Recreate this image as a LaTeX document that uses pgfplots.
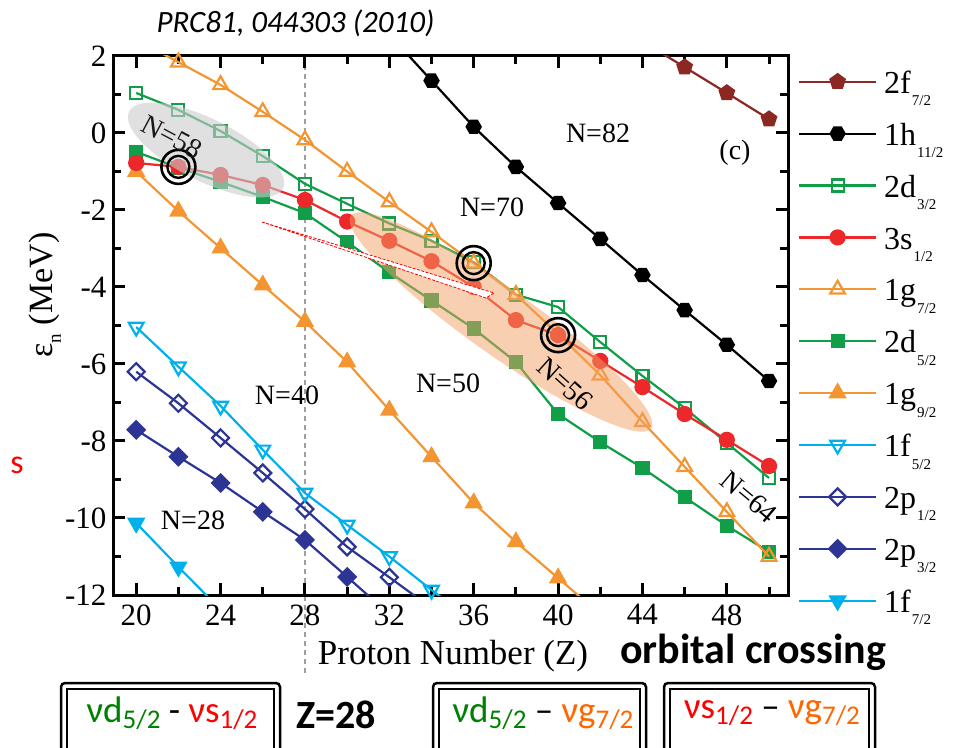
\documentclass[border=0pt]{standalone}
\usepackage{fontspec}
\setmainfont{Liberation Serif}
\newfontfamily\carlito{Carlito}
\usepackage{pgfplots}
\pgfplotsset{compat=1.18}
\usetikzlibrary{plotmarks}
\definecolor{cbrown}{RGB}{139,40,35}
\definecolor{cgreen}{RGB}{16,158,72}
\definecolor{cred}{RGB}{236,40,42}
\definecolor{corange}{RGB}{243,150,50}
\definecolor{cblue}{RGB}{0,176,236}
\definecolor{cnavy}{RGB}{44,52,148}
\definecolor{tgreen}{RGB}{0,128,0}
\definecolor{tred}{RGB}{255,0,0}
\definecolor{torange}{RGB}{255,102,0}
\definecolor{ellor}{RGB}{242,160,100}
\pgfdeclareplotmark{hexagon*}{%
  \pgfpathmoveto{\pgfqpointpolar{0}{\pgfplotmarksize}}%
  \pgfpathlineto{\pgfqpointpolar{60}{\pgfplotmarksize}}%
  \pgfpathlineto{\pgfqpointpolar{120}{\pgfplotmarksize}}%
  \pgfpathlineto{\pgfqpointpolar{180}{\pgfplotmarksize}}%
  \pgfpathlineto{\pgfqpointpolar{240}{\pgfplotmarksize}}%
  \pgfpathlineto{\pgfqpointpolar{300}{\pgfplotmarksize}}%
  \pgfpathclose\pgfusepathqfillstroke}
\pgfplotsset{
  s2f/.style={cbrown, line width=2.2pt, mark=pentagon*, mark size=7.5pt, mark options={fill=cbrown, solid}},
  s1h/.style={black, line width=2.2pt, mark=hexagon*, mark size=7pt, mark options={fill=black, solid}},
  s2dc/.style={cgreen, line width=2.2pt, mark=square, mark size=6pt, mark options={fill=white, solid}},
  s3s/.style={cred, line width=2.2pt, mark=*, mark size=7pt, mark options={fill=cred, solid}},
  s1gs/.style={corange, line width=2.2pt, mark=triangle, mark size=8.5pt, mark options={fill=white, solid}},
  s2df/.style={cgreen, line width=2.2pt, mark=square*, mark size=6pt, mark options={fill=cgreen, solid}},
  s1gn/.style={corange, line width=2.2pt, mark=triangle*, mark size=8.5pt, mark options={fill=corange, solid}},
  s1ff/.style={cblue, line width=2.2pt, mark=triangle, mark size=8.5pt, mark options={fill=white, rotate=180, solid}},
  s2po/.style={cnavy, line width=2.2pt, mark=square, mark size=6pt, mark options={fill=white, rotate=45, solid}},
  s2pt/.style={cnavy, line width=2.2pt, mark=square*, mark size=6pt, mark options={fill=cnavy, rotate=45, solid}},
  s1fs/.style={cblue, line width=2.2pt, mark=triangle*, mark size=8.5pt, mark options={fill=cblue, rotate=180, solid}},
}
\newcommand{\lsub}[1]{\kern1pt\raisebox{-12.4pt}{\fontsize{15}{15}\selectfont #1}}
\newcommand{\bsub}[1]{\raisebox{-6pt}{\fontsize{27}{27}\selectfont #1}}
\begin{document}
\begin{tikzpicture}
\useasboundingbox (0,0) rectangle (963pt,747pt);
\clip (0,0) rectangle (963pt,747pt);
% dashed line at Z=28
\draw[gray!75, line width=1.5pt, dash pattern=on 5pt off 4pt] (305pt,691pt) -- (305pt,72pt);
\begin{axis}[
  at={(113pt,152pt)}, anchor=south west,
  width=675pt, height=539pt, scale only axis,
  xmin=18.9, xmax=50.9, ymin=-12, ymax=2,
  xtick={20,24,...,48}, minor xtick={22,26,...,50},
  ytick={-12,-10,...,2}, minor ytick={-11,-9,...,1},
  tick align=inside,
  major tick length=12pt, minor tick length=8pt,
  every tick/.append style={black, line width=3pt},
  axis line style={line width=3pt},
  tick label style={font=\fontsize{31}{31}\selectfont},
  /pgf/number format/assume math mode=true,
  xticklabel style={yshift=-6pt},
  yticklabel style={xshift=-3pt},
  clip mode=individual,
  legend style={at={(1,1)}, anchor=north west, xshift=10pt, yshift=-15.3pt,
    draw=none, fill=none, inner sep=0pt, outer sep=0pt, row sep=0pt, column sep=7pt,
    cells={anchor=base west},
    nodes={inner sep=0pt, text height=22pt, text depth=29.9pt},
    font=\fontsize{32}{32}\selectfont},
  legend image code/.code={\draw[mark repeat=2,mark phase=2,#1,yshift=11.6pt] plot coordinates {(0pt,0pt) (38.5pt,0pt) (77pt,0pt)};},
]
\addlegendimage{s2f}
\addlegendimage{s1h}
\addlegendimage{s2dc}
\addlegendimage{s3s}
\addlegendimage{s1gs}
\addlegendimage{s2df}
\addlegendimage{s1gn}
\addlegendimage{s1ff}
\addlegendimage{s2po}
\addlegendimage{s2pt}
\addlegendimage{s1fs}
\legend{2f\lsub{7/2}, 1h\lsub{11/2}, 2d\lsub{3/2}, 3s\lsub{1/2}, 1g\lsub{7/2}, 2d\lsub{5/2}, 1g\lsub{9/2}, 1f\lsub{5/2}, 2p\lsub{1/2}, 2p\lsub{3/2}, 1f\lsub{7/2}}
% 1f7/2
\addplot[s1fs, forget plot] coordinates {(20,-10.13)(22,-11.27)(24,-12.38)};
% 2p3/2
\addplot[s2pt, forget plot] coordinates {(20,-7.71)(22,-8.41)(24,-9.09)(26,-9.84)(28,-10.57)(30,-11.53)(32,-12.5)};
% 2p1/2
\addplot[s2po, forget plot] coordinates {(20,-6.2)(22,-7.02)(24,-7.92)(26,-8.83)(28,-9.77)(30,-10.75)(32,-11.54)(34,-12.34)};
% 1f5/2
\addplot[s1ff, forget plot] coordinates {(20,-5.04)(22,-6.07)(24,-7.09)(26,-8.23)(28,-9.35)(30,-10.18)(32,-11.0)(34,-11.87)(36,-12.7)};
% 2d5/2
\addplot[s2df, forget plot] coordinates {(20,-0.49)(22,-0.9)(24,-1.27)(26,-1.66)(28,-2.08)(30,-2.83)(32,-3.62)(34,-4.35)(36,-5.08)(38,-5.95)(40,-7.3)(42,-8.03)(44,-8.7)(46,-9.46)(48,-10.2)(50,-10.88)};
% 2d3/2
\addplot[s2dc, forget plot] coordinates {(20,1.04)(22,0.6)(24,0.05)(26,-0.6)(28,-1.32)(30,-1.84)(32,-2.35)(34,-2.8)(36,-3.36)(38,-4.2)(40,-4.52)(42,-5.43)(44,-6.31)(46,-7.14)(48,-8.05)(50,-8.96)};
% 1g9/2
\addplot[s1gn, forget plot] coordinates {(20,-1.0)(22,-2.03)(24,-2.99)(26,-3.95)(28,-4.9)(30,-5.95)(32,-7.2)(34,-8.41)(36,-9.61)(38,-10.62)(40,-11.56)(42,-12.5)};
% 1g7/2
\addplot[s1gs, forget plot] coordinates {(20,2.43)(22,1.84)(24,1.25)(26,0.55)(28,-0.18)(30,-1.0)(32,-1.79)(34,-2.57)(36,-3.38)(38,-4.2)(40,-5.22)(42,-6.29)(44,-7.5)(46,-8.67)(48,-9.84)(50,-11.0)};
% 3s1/2
\addplot[s3s, forget plot] coordinates {(20,-0.78)(22,-0.88)(24,-1.09)(26,-1.35)(28,-1.74)(30,-2.3)(32,-2.8)(34,-3.33)(36,-4.0)(38,-4.86)(40,-5.25)(42,-5.92)(44,-6.6)(46,-7.3)(48,-7.97)(50,-8.65)};
% 1h11/2
\addplot[s1h, forget plot] coordinates {(32,2.56)(34,1.36)(36,0.16)(38,-0.88)(40,-1.82)(42,-2.75)(44,-3.69)(46,-4.6)(48,-5.5)(50,-6.44)};
% 2f7/2
\addplot[s2f, forget plot] coordinates {(44,2.38)(46,1.71)(48,1.04)(50,0.36)};
\end{axis}
% shaded regions
\fill[gray!40, opacity=0.6, shift={(206pt,597pt)}, rotate=-26.6] (0,0) ellipse [x radius=86pt, y radius=31pt];
\fill[ellor, opacity=0.5, shift={(501pt,425pt)}, rotate=-35.3] (0,0) ellipse [x radius=184pt, y radius=33pt];
\filldraw[fill=white, draw=red, line width=0.8pt, dash pattern=on 3pt off 1.5pt] (262pt,525pt) -- (494pt,454pt) -- (486pt,449pt) -- cycle;
\begin{axis}[
  at={(113pt,152pt)}, anchor=south west,
  width=675pt, height=539pt, scale only axis,
  xmin=18.9, xmax=50.9, ymin=-12, ymax=2, hide axis]
\addplot[only marks, mark=o, mark size=17pt, line width=2.6pt, black] coordinates {(22,-0.88)(36,-3.38)(40,-5.25)};
\addplot[only marks, mark=o, mark size=11pt, line width=2.4pt, black] coordinates {(22,-0.88)(36,-3.38)(40,-5.25)};
\end{axis}
% labels in plot
\begin{scope}[font=\fontsize{28}{28}\selectfont]
\node at (598pt,614pt) {N=82};
\node at (735pt,594pt) {(c)};
\node at (492pt,540pt) {N=70};
\node at (448pt,364pt) {N=50};
\node at (287pt,352pt) {N=40};
\node at (193pt,227pt) {N=28};
\node[gray!20!black, rotate=-28] at (172pt,610pt) {N=58};
\node[rotate=-42] at (565pt,363pt) {N=56};
\node[rotate=-40] at (749pt,250pt) {N=64};
\end{scope}
% axis labels
\node[font=\fontsize{35}{35}\selectfont] at (453pt,91pt) {Proton Number (Z)};
\node[font=\fontsize{34}{34}\selectfont, rotate=90] at (45pt,452pt) {ε\raisebox{-8pt}{\fontsize{19}{19}\selectfont n} (MeV)};
% title and extra text
\node[anchor=west, font=\carlito\itshape\fontsize{31}{31}\selectfont] at (153pt,724pt) {PRC81, 044303 (2010)};
\node[anchor=base, font=\carlito\bfseries\fontsize{42}{42}\selectfont] at (753pt,84pt) {orbital crossing};
\node[red, font=\carlito\fontsize{34}{34}\selectfont] at (17pt,282pt) {s};
% boxes
\draw[line width=2.5pt, rounded corners=4pt] (61pt,64pt) rectangle (280pt,-20pt);
\draw[line width=2pt] (67pt,58pt) rectangle (274pt,-20pt);
\draw[line width=2.5pt, rounded corners=4pt] (433pt,64pt) rectangle (646pt,-20pt);
\draw[line width=2pt] (439pt,58pt) rectangle (640pt,-20pt);
\draw[line width=2.5pt, rounded corners=4pt] (664pt,64pt) rectangle (875pt,-20pt);
\draw[line width=2pt] (670pt,58pt) rectangle (869pt,-20pt);
\begin{scope}[font=\carlito\fontsize{37}{37}\selectfont]
\node at (172pt,34pt) {\textcolor{tgreen}{νd\bsub{5/2}} - \textcolor{tred}{νs\bsub{1/2}}};
\node at (543pt,34pt) {\textcolor{tgreen}{νd\bsub{5/2}} – \textcolor{torange}{νg\bsub{7/2}}};
\node at (772pt,34pt) {\textcolor{tred}{νs\bsub{1/2}} – \textcolor{torange}{νg\bsub{7/2}}};
\end{scope}
\node[font=\carlito\bfseries\fontsize{40}{40}\selectfont] at (336pt,32pt) {Z=28};
\end{tikzpicture}
\end{document}
